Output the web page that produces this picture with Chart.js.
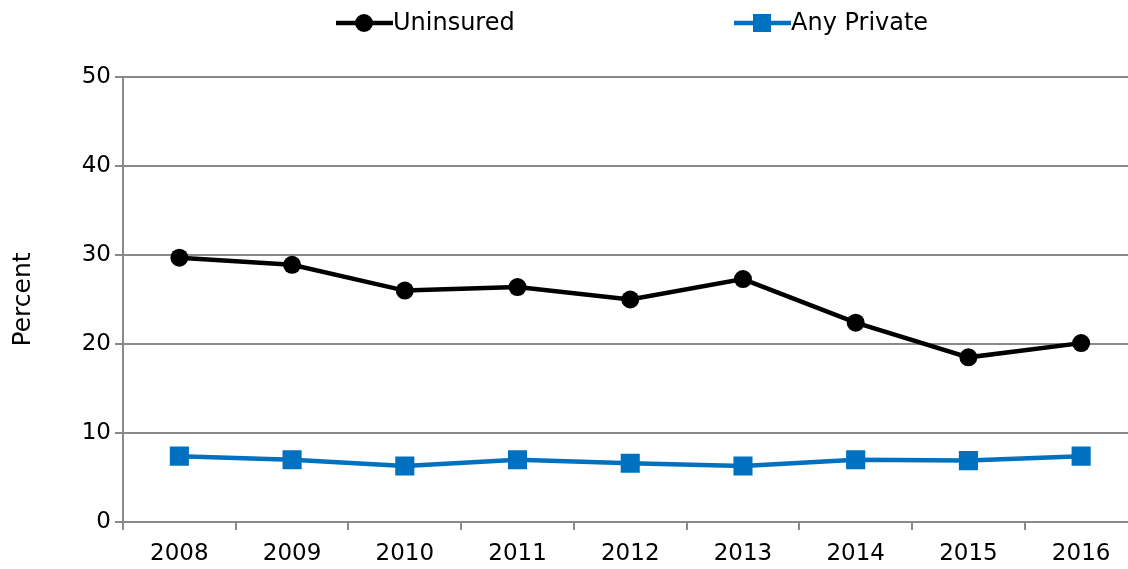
<!DOCTYPE html>
<html lang="en">
<head>
    <meta charset="UTF-8">
    <title>Uninsured vs Any Private</title>
    <script src="https://cdn.jsdelivr.net/npm/chart.js"></script>
    <style>
        html, body { margin: 0; padding: 0; overflow: hidden; background: #fff; }
        #wrap { width: 1128px; height: 569px; overflow: hidden; }
    </style>
</head>
<body>
    <div id="wrap"><canvas id="chart" width="1151" height="569"></canvas></div>

    <script>
        // data
        const years = ['2008', '2009', '2010', '2011', '2012', '2013', '2014', '2015', '2016'];
        const uninsured = [29.7, 28.9, 26.0, 26.4, 25.0, 27.3, 22.4, 18.5, 20.1];
        const anyPrivate = [7.4, 7.0, 6.3, 7.0, 6.6, 6.3, 7.0, 6.9, 7.4];
        const seriesNames = ['Uninsured', 'Any Private'];
        const seriesColors = ['#000000', '#0070C0'];

        const font = 'DejaVu Sans';
        const gridColor = '#898989';

        // legend drawn by hand: line + marker + text
        const legendPlugin = {
            id: 'topLegend',
            afterDraw(chart) {
                const ctx = chart.ctx;
                const items = [
                    { x: 336, style: 'circle' },
                    { x: 734, style: 'rect' }
                ];
                ctx.save();
                items.forEach((it, i) => {
                    const y = 23;
                    ctx.strokeStyle = seriesColors[i];
                    ctx.fillStyle = seriesColors[i];
                    ctx.lineWidth = 4.5;
                    ctx.beginPath();
                    ctx.moveTo(it.x, y);
                    ctx.lineTo(it.x + 57, y);
                    ctx.stroke();
                    if (it.style === 'circle') {
                        ctx.beginPath();
                        ctx.arc(it.x + 28, y, 9, 0, Math.PI * 2);
                        ctx.fill();
                    } else {
                        ctx.fillRect(it.x + 28 - 9, y - 9, 18, 18);
                    }
                    ctx.fillStyle = '#000';
                    ctx.font = '24px "' + font + '"';
                    ctx.textBaseline = 'middle';
                    ctx.fillText(seriesNames[i], it.x + 57, y + 1);
                });
                ctx.restore();
            }
        };

        const ctx = document.getElementById('chart').getContext('2d');
        new Chart(ctx, {
            type: 'line',
            data: {
                labels: years,
                datasets: [{
                    label: seriesNames[0],
                    data: uninsured,
                    borderColor: seriesColors[0],
                    backgroundColor: seriesColors[0],
                    borderWidth: 4.5,
                    pointStyle: 'circle',
                    pointRadius: 9,
                    pointBorderWidth: 0
                }, {
                    label: seriesNames[1],
                    data: anyPrivate,
                    borderColor: seriesColors[1],
                    backgroundColor: seriesColors[1],
                    borderWidth: 4.5,
                    pointStyle: 'rect',
                    pointRadius: 13.5,
                    pointBorderWidth: 0
                }]
            },
            options: {
                responsive: false,
                animation: false,
                layout: { padding: { top: 77, right: 1, left: 0, bottom: 0 } },
                plugins: {
                    legend: { display: false },
                    tooltip: { enabled: false }
                },
                scales: {
                    x: {
                        offset: true,
                        grid: {
                            offset: true,
                            drawOnChartArea: false,
                            color: gridColor,
                            lineWidth: 2,
                            tickLength: 8
                        },
                        border: { color: gridColor, width: 2 },
                        ticks: {
                            color: '#000',
                            font: { family: font, size: 23 },
                            padding: 10,
                            maxRotation: 0
                        },
                        afterFit(scale) { scale.height = 47; }
                    },
                    y: {
                        min: 0,
                        max: 50,
                        ticks: {
                            stepSize: 10,
                            color: '#000',
                            font: { family: font, size: 23 },
                            padding: 4
                        },
                        grid: {
                            color: gridColor,
                            lineWidth: 2,
                            tickLength: 8
                        },
                        border: { color: gridColor, width: 2 },
                        title: {
                            display: true,
                            text: 'Percent',
                            color: '#000',
                            font: { family: font, size: 25 },
                            padding: { top: 8, bottom: 10 }
                        },
                        afterFit(scale) { scale.width = 123; }
                    }
                }
            },
            plugins: [legendPlugin]
        });
    </script>
</body>
</html>
